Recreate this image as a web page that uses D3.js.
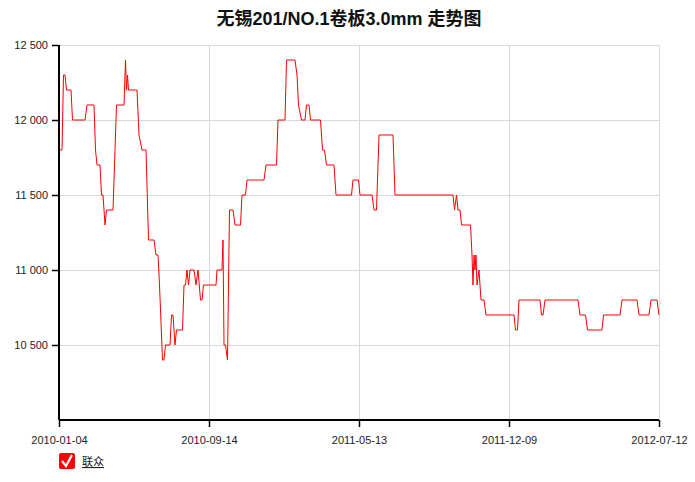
<!DOCTYPE html>
<html><head><meta charset="utf-8">
<script src="https://cdn.jsdelivr.net/npm/d3@7/dist/d3.min.js"></script>
<style>
body{margin:0;background:#fff;}
svg{display:block;font-family:"Liberation Sans",Arial,"Noto Sans CJK SC",sans-serif;}
</style></head>
<body><svg id="c" width="695" height="482"></svg>
<script>
const titleText = "无锡201/NO.1卷板3.0mm 走势图";
const seriesName = "联众";
const tickLabels = ["2010-01-04","2010-09-14","2011-05-13","2011-12-09","2012-07-12"];
const tickIndex = [0,300,600,900,1200];
const yTicks = [10500,11000,11500,12000,12500];
// price series vertices: point index (trading-day position) and price
const pointIndex = [0,6,9,12,15,24,27,52,56,70,73,76,82,85,88,92,95,108,112,115,130,133,135,137,139,156,160,166,174,179,190,194,198,201,207,210,213,222,225,228,232,235,247,250,253,256,259,262,270,274,278,283,286,289,314,316,326,328,330,333,337,341,348,352,363,366,373,376,410,414,435,438,452,455,472,476,479,485,492,495,500,503,523,527,531,535,550,554,585,588,599,602,626,630,635,640,668,672,788,791,795,798,802,805,823,826,828,830,832,834,836,840,844,850,854,910,913,917,920,962,965,968,972,1038,1042,1053,1057,1086,1089,1122,1126,1156,1160,1180,1184,1196,1200];
const priceValues = [11800,11800,12300,12300,12200,12200,12000,12000,12100,12100,11800,11700,11700,11500,11500,11300,11400,11400,11800,12100,12100,12400,12200,12300,12200,12200,11900,11800,11800,11200,11200,11100,11100,10900,10400,10400,10500,10500,10700,10700,10500,10600,10600,10900,10900,11000,10900,11000,11000,10900,11000,10800,10800,10900,10900,11000,11000,11200,10500,10500,10400,11400,11400,11300,11300,11500,11500,11600,11600,11700,11700,12000,12000,12400,12400,12300,12100,12000,12000,12100,12100,12000,12000,11800,11800,11700,11700,11500,11500,11600,11600,11500,11500,11400,11400,11900,11900,11500,11500,11400,11500,11400,11400,11300,11300,11100,10900,11100,11000,11100,10900,11000,10800,10800,10700,10700,10600,10600,10800,10800,10700,10700,10800,10800,10700,10700,10600,10600,10700,10700,10800,10800,10700,10700,10800,10800,10700];

const svg = d3.select("#c");
const m = {left:59, right:659, top:45, bottom:420};
const x = d3.scaleLinear().domain([0,1200]).range([m.left,m.right]);
const y = d3.scaleLinear().domain([10000,12500]).range([m.bottom,m.top]);

svg.append("text").attr("x",349).attr("y",25).attr("text-anchor","middle")
  .attr("font-size",18).attr("font-weight","bold").attr("fill","#111").text(titleText);

// grid
const g = svg.append("g");
g.selectAll(".hg").data(yTicks).join("line")
  .attr("x1",m.left).attr("x2",m.right).attr("y1",d=>Math.round(y(d))+0.5).attr("y2",d=>Math.round(y(d))+0.5)
  .attr("stroke","#d9d9d9");
g.selectAll(".vg").data(tickIndex.slice(1)).join("line")
  .attr("x1",d=>Math.round(x(d))+0.5).attr("x2",d=>Math.round(x(d))+0.5).attr("y1",m.top).attr("y2",m.bottom)
  .attr("stroke","#d9d9d9");

// line
const line = d3.line().x((d,i)=>x(pointIndex[i])).y(d=>y(d));
svg.append("path").datum(priceValues).attr("d",line).attr("fill","none")
  .attr("stroke","#ff0000").attr("stroke-width",1);

// axes
const fmt = v => d3.format(",")(v).replace(",", " ");
const yAxis = svg.append("g").attr("transform",`translate(${m.left},0)`)
  .call(d3.axisLeft(y).tickValues(yTicks).tickFormat(fmt).tickSize(7).tickPadding(4));
const xAxis = svg.append("g").attr("transform",`translate(0,${m.bottom})`)
  .call(d3.axisBottom(x).tickValues(tickIndex).tickFormat((d,i)=>tickLabels[i]).tickSize(7).tickPadding(9));
[yAxis,xAxis].forEach(a=>{
  a.select(".domain").attr("stroke","#000").attr("stroke-width",2);
  a.selectAll(".tick line").attr("stroke","#000").attr("stroke-width",1.5);
  a.selectAll(".tick text").attr("fill","#222").attr("font-size",11)
   .attr("font-family","'Liberation Sans',Arial,sans-serif");
});
xAxis.select(".domain").attr("d",`M${m.left},0H${m.right}`);
yAxis.select(".domain").attr("d",`M0,${m.top}V${m.bottom}`);

// legend
const lg = svg.append("g").attr("transform","translate(59,453)");
lg.append("rect").attr("width",16).attr("height",16).attr("rx",2).attr("fill","#ff0000");
lg.append("path").attr("d","M3,8 L7,13 L13,2").attr("fill","none").attr("stroke","#fff").attr("stroke-width",2.2);
lg.append("text").attr("x",23).attr("y",13).attr("font-size",11).attr("fill","#222")
  .attr("text-decoration","underline").attr("font-family","'Noto Sans CJK SC',sans-serif").text(seriesName);
</script></body></html>
